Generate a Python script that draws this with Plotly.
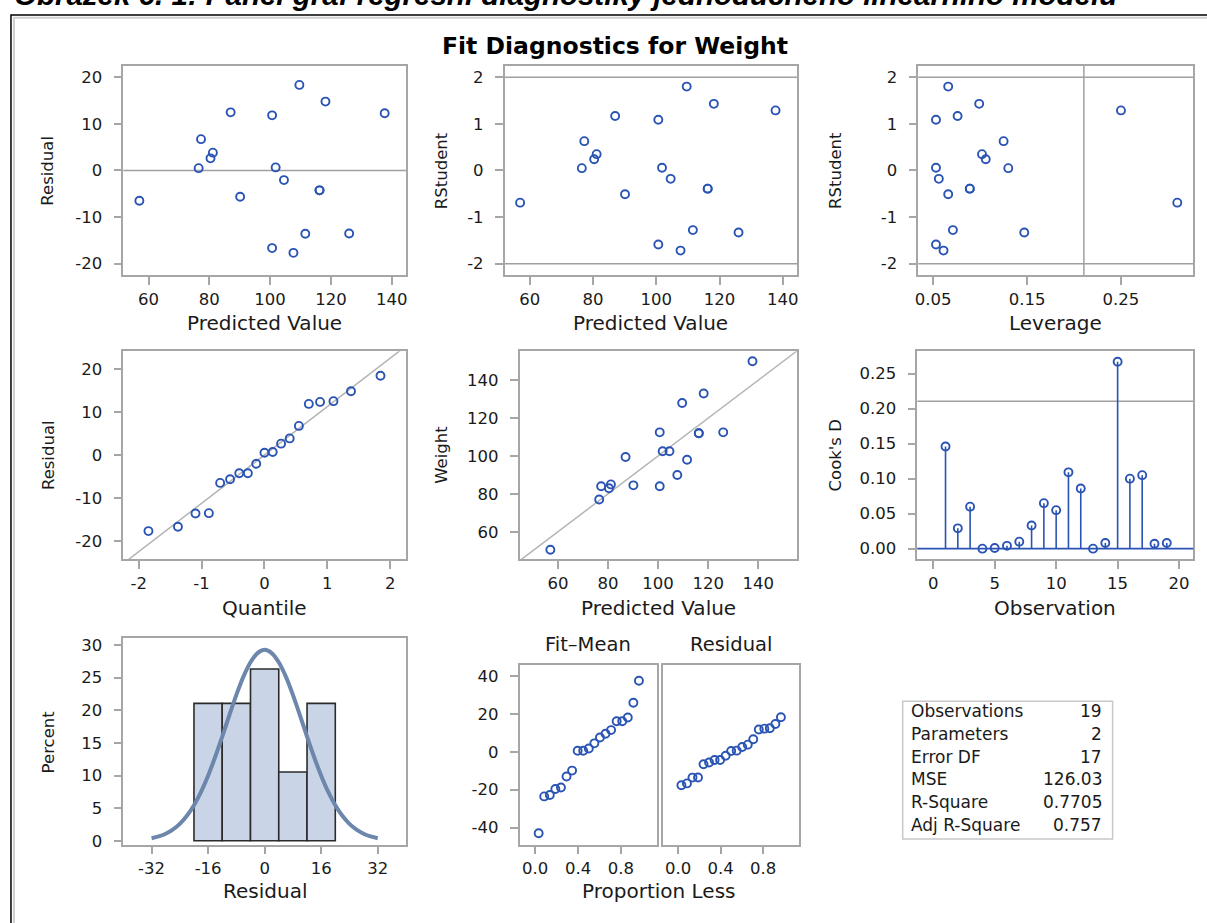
import plotly.graph_objects as go

# ---------------- data ----------------
observation = [1, 2, 3, 4, 5, 6, 7, 8, 9, 10, 11, 12, 13, 14, 15, 16, 17, 18, 19]
predicted = [126.01, 77.27, 111.58, 101.83, 104.56, 80.39, 90.14, 100.66, 100.66, 87.02,
             56.99, 107.68, 76.49, 116.26, 137.70, 109.63, 118.21, 81.17, 116.26]
residual = [-13.51, 6.73, -13.58, 0.67, -2.06, 2.61, -5.64, 11.84, -16.66, 12.48,
            -6.49, -17.68, 0.51, -4.26, 12.30, 18.37, 14.79, 3.83, -4.26]
weight = [112.5, 84.0, 98.0, 102.5, 102.5, 83.0, 84.5, 112.5, 84.0, 99.5,
          50.5, 90.0, 77.0, 112.0, 150.0, 128.0, 133.0, 85.0, 112.0]
rstudent = [-1.33, 0.63, -1.28, 0.06, -0.18, 0.24, -0.51, 1.09, -1.59, 1.17,
            -0.69, -1.72, 0.05, -0.39, 1.29, 1.80, 1.43, 0.35, -0.39]
leverage = [0.147, 0.125, 0.071, 0.053, 0.056, 0.106, 0.066, 0.053, 0.053, 0.076,
            0.310, 0.061, 0.130, 0.089, 0.250, 0.066, 0.099, 0.102, 0.089]
cooks_d = [0.146, 0.029, 0.060, 0.000, 0.001, 0.004, 0.010, 0.033, 0.065, 0.055,
           0.109, 0.086, 0.000, 0.008, 0.267, 0.100, 0.105, 0.007, 0.008]

normal_quantile = [-1.845, -1.376, -1.097, -0.884, -0.705, -0.547, -0.401, -0.264, -0.131, 0.0,
                   0.131, 0.264, 0.401, 0.547, 0.705, 0.884, 1.097, 1.376, 1.845]
sorted_residual = [-17.68, -16.66, -13.58, -13.51, -6.49, -5.64, -4.26, -4.26, -2.06, 0.51,
                   0.67, 2.61, 3.83, 6.73, 11.84, 12.30, 12.48, 14.79, 18.37]
proportion_less = [0.032, 0.084, 0.136, 0.188, 0.240, 0.292, 0.344, 0.396, 0.448, 0.500,
                   0.552, 0.604, 0.656, 0.708, 0.760, 0.812, 0.864, 0.916, 0.968]
fit_minus_mean = [-43.03, -23.54, -22.76, -19.64, -18.86, -13.01, -9.89, 0.64, 0.64, 1.81,
                  4.53, 7.65, 9.60, 11.55, 16.23, 16.23, 18.18, 25.98, 37.68]

hist_bin_center = [-16, -8, 0, 8, 16]
hist_percent = [21.05, 21.05, 26.32, 10.53, 21.05]
hist_bin_width = 8
curve_x = [-32, -30, -28, -26, -24, -22, -20, -18, -16, -14, -12, -10, -8, -6, -4, -2, 0,
           2, 4, 6, 8, 10, 12, 14, 16, 18, 20, 22, 24, 26, 28, 30, 32]
curve_y = [0.40, 0.67, 1.09, 1.71, 2.60, 3.83, 5.45, 7.50, 9.98, 12.84, 15.97, 19.22, 22.36,
           25.15, 27.35, 28.76, 29.25, 28.76, 27.35, 25.15, 22.36, 19.22, 15.97, 12.84, 9.98,
           7.50, 5.45, 3.83, 2.60, 1.71, 1.09, 0.67, 0.40]

root_mse = 11.226
cutoff = 0.2105   # 4/n for Cook's D and 2p/n for leverage
rstudent_limit = 2

stat_labels = ["Observations", "Parameters", "Error DF", "MSE", "R-Square", "Adj R-Square"]
stat_values = ["19", "2", "17", "126.03", "0.7705", "0.757"]

ticks_pred = [60, 80, 100, 120, 140]
ticks_resid = [-20, -10, 0, 10, 20]
ticks_rstud = [-2, -1, 0, 1, 2]
ticks_lev = [0.05, 0.15, 0.25]
ticks_quant = [-2, -1, 0, 1, 2]
ticks_weight = [60, 80, 100, 120, 140]
ticks_obs = [0, 5, 10, 15, 20]
ticks_cook = [0.0, 0.05, 0.10, 0.15, 0.20, 0.25]
ticks_hist = [-32, -16, 0, 16, 32]
ticks_pct = [0, 5, 10, 15, 20, 25, 30]
ticks_prop = [0.0, 0.4, 0.8]
ticks_spread = [-40, -20, 0, 20, 40]

# ---------------- styling ----------------
W, H = 1207, 923
BLUE = "#2A54B4"
FRAME = "#A6A6A6"
REF = "#A0A0A0"
TXT = "#1a1a1a"
FONT = "DejaVu Sans"


def fmt(v, nd=0):
    s = f"{v:.{nd}f}"
    return s.replace("\u2212", "-")


def dom(l, r, t, b):
    return [l / W, r / W], [1 - b / H, 1 - t / H]


frames = {
    1: (120.7, 404.3, 64, 275),
    2: (503.3, 796.7, 63.5, 275),
    3: (918.3, 1194.3, 63.5, 275),
    4: (120.7, 404.3, 351.7, 561.7),
    5: (518.3, 796.7, 351.7, 561.7),
    6: (917.3, 1194.3, 351.7, 561.7),
    7: (120.7, 404.3, 641.7, 850),
    8: (518.3, 656, 668.3, 850),
    9: (661.7, 798.3, 668.3, 850),
}
ranges = {
    1: ([51.7, 144.7], [-22.5, 22.35]),
    2: ([52.1, 144.5], [-2.25, 2.245]),
    3: ([0.0341, 0.3271], [-2.25, 2.245]),
    4: ([-2.245, 2.25], [-24.2, 24.05]),
    5: ([44.7, 155.5], [45.5, 155.3]),
    6: ([-1.3, 21.16], [-0.0151, 0.282]),
    7: ([-40, 40], [-0.6, 31.0]),
    8: ([-0.146, 1.135], [-49.1, 46.1]),
    9: ([-0.146, 1.135], [-49.1, 46.1]),
}
xticks = {1: (ticks_pred, 0), 2: (ticks_pred, 0), 3: (ticks_lev, 2), 4: (ticks_quant, 0),
          5: (ticks_pred, 0), 6: (ticks_obs, 0), 7: (ticks_hist, 0), 8: (ticks_prop, 1),
          9: (ticks_prop, 1)}
yticks = {1: (ticks_resid, 0), 2: (ticks_rstud, 0), 3: (ticks_rstud, 0), 4: (ticks_resid, 0),
          5: (ticks_weight, 0), 6: (ticks_cook, 2), 7: (ticks_pct, 0), 8: (ticks_spread, 0),
          9: (ticks_spread, 0)}

layout = dict(
    width=W, height=H, margin=dict(l=0, r=0, t=0, b=0, pad=0),
    paper_bgcolor="white", plot_bgcolor="white", showlegend=False,
    font=dict(family=FONT, color=TXT),
)

for i in range(1, 10):
    xd, yd = dom(*frames[i])
    sfx = "" if i == 1 else str(i)
    xt, xnd = xticks[i]
    yt, ynd = yticks[i]
    common = dict(showline=True, mirror=True, linecolor=FRAME, linewidth=1.5,
                  ticks="outside", ticklen=8, tickcolor=FRAME, tickwidth=1.5,
                  showgrid=False, zeroline=False,
                  tickfont=dict(family=FONT, size=16.5, color=TXT), fixedrange=True)
    layout["xaxis" + sfx] = dict(common, domain=xd, anchor="y" + sfx, range=ranges[i][0],
                                 tickmode="array", tickvals=xt,
                                 ticktext=[fmt(v, xnd) for v in xt], ticklabelstandoff=0)
    ydict = dict(common, domain=yd, anchor="x" + sfx, range=ranges[i][1],
                 tickmode="array", tickvals=yt,
                 ticktext=[fmt(v, ynd) for v in yt], ticklabelstandoff=8)
    if i == 9:
        ydict.update(showticklabels=False, ticks="")
    layout["yaxis" + sfx] = ydict

fig = go.Figure(layout=layout)

mk = dict(symbol="circle-open", size=8, color=BLUE, line=dict(width=1.9, color=BLUE))


def scat(x, y, n):
    sfx = "" if n == 1 else str(n)
    fig.add_trace(go.Scatter(x=x, y=y, mode="markers", marker=mk,
                             xaxis="x" + sfx, yaxis="y" + sfx, hoverinfo="skip"))


shapes = []


def hline(n, y, color=REF, width=1.5):
    sfx = "" if n == 1 else str(n)
    shapes.append(dict(type="line", xref="x" + sfx + " domain", yref="y" + sfx,
                       x0=0, x1=1, y0=y, y1=y, line=dict(color=color, width=width),
                       layer="below"))


def vline(n, x, color=REF, width=1.5):
    sfx = "" if n == 1 else str(n)
    shapes.append(dict(type="line", xref="x" + sfx, yref="y" + sfx + " domain",
                       x0=x, x1=x, y0=0, y1=1, line=dict(color=color, width=width),
                       layer="below"))


hline(1, 0)
hline(2, rstudent_limit); hline(2, -rstudent_limit)
hline(3, rstudent_limit); hline(3, -rstudent_limit); vline(3, cutoff)
hline(6, cutoff)

# diagonal reference lines
fig.add_trace(go.Scatter(x=[-3, 3], y=[-3 * root_mse, 3 * root_mse], mode="lines",
                         line=dict(color="#B4B4B4", width=1.5), xaxis="x4", yaxis="y4",
                         hoverinfo="skip"))
fig.add_trace(go.Scatter(x=[40, 160], y=[40, 160], mode="lines",
                         line=dict(color="#B4B4B4", width=1.5), xaxis="x5", yaxis="y5",
                         hoverinfo="skip"))

scat(predicted, residual, 1)
scat(predicted, rstudent, 2)
scat(leverage, rstudent, 3)
scat(normal_quantile, sorted_residual, 4)
scat(predicted, weight, 5)

# Cook's D needles
nx, ny = [], []
for o, d in zip(observation, cooks_d):
    nx += [o, o, None]
    ny += [0, d, None]
fig.add_trace(go.Scatter(x=nx, y=ny, mode="lines", line=dict(color=BLUE, width=1.6),
                         xaxis="x6", yaxis="y6", hoverinfo="skip"))
shapes.append(dict(type="line", xref="x6 domain", yref="y6", x0=0, x1=1, y0=0, y1=0,
                   line=dict(color=BLUE, width=1.6)))
scat(observation, cooks_d, 6)

# histogram + normal curve
fig.add_trace(go.Bar(x=hist_bin_center, y=hist_percent, width=hist_bin_width,
                     marker=dict(color="#C9D4E6", line=dict(color="#2b2b2b", width=1.6)),
                     xaxis="x7", yaxis="y7", hoverinfo="skip"))
fig.add_trace(go.Scatter(x=curve_x, y=curve_y, mode="lines",
                         line=dict(color="#6C86AC", width=4, shape="spline"),
                         xaxis="x7", yaxis="y7", hoverinfo="skip"))

# residual-fit spread
scat(proportion_less, fit_minus_mean, 8)
scat(proportion_less, sorted_residual, 9)

# outer borders
shapes.append(dict(type="rect", xref="paper", yref="paper", x0=11 / W, x1=1.02,
                   y0=-0.02, y1=1 - 15 / H, line=dict(color="#D0D0D0", width=2)))
shapes.append(dict(type="rect", xref="paper", yref="paper", x0=8 / W, x1=1.02,
                   y0=-0.02, y1=1 - 12 / H, line=dict(color="black", width=1.5)))

# fit statistics box
shapes.append(dict(type="rect", xref="paper", yref="paper", x0=902.7 / W, x1=1113.3 / W,
                   y0=1 - 844.3 / H, y1=1 - 705 / H, line=dict(color="#C8C8C8", width=1.5)))

annotations = []


def ann(text, x, y, size, xanchor="center", yanchor="middle", angle=0, color=TXT, family=FONT):
    annotations.append(dict(text=text, x=x / W, y=1 - y / H, xref="paper", yref="paper",
                            xanchor=xanchor, yanchor=yanchor, textangle=angle,
                            showarrow=False, font=dict(family=family, size=size, color=color)))


for i, (lab, val) in enumerate(zip(stat_labels, stat_values)):
    yy = 715 + i * 23
    ann(lab, 909, yy, 17, xanchor="left")
    ann(val, 1105, yy, 17, xanchor="right")

# titles
ann("<b><i>Obrázek 6. 1: Panel graf regresní diagnostiky jednoduchého lineárního modelu</i></b>",
    9, 10, 29.5, xanchor="left", yanchor="bottom", color="black", family="Liberation Sans")
ann("<b>Fit Diagnostics for Weight</b>", 614.5, 43, 23.5, color="black")

# x axis titles
XT = 20
ann("Predicted Value", 262.5, 323, XT)
ann("Predicted Value", 650, 323, XT)
ann("Leverage", 1056.3, 323, XT)
ann("Quantile", 262.5, 611, XT)
ann("Predicted Value", 657.5, 611, XT)
ann("Observation", 1055.8, 611, XT)
ann("Residual", 262.5, 896.7, XT)
ann("Proportion Less", 658.3, 896.7, XT)
ann("Fit\u2013Mean", 587.2, 648, 19.5)
ann("Residual", 730, 648, 19.5)

# y axis titles
YT = 16.5
ann("Residual", 45, 169.5, YT, angle=-90)
ann("RStudent", 440, 169.3, YT, angle=-90)
ann("RStudent", 835, 169.3, YT, angle=-90)
ann("Residual", 45, 456.7, YT, angle=-90)
ann("Weight", 440, 456.7, YT, angle=-90)
ann("Cook's D", 835, 456.7, YT, angle=-90)
ann("Percent", 46, 745.8, YT, angle=-90)

fig.update_layout(shapes=shapes, annotations=annotations)
fig.write_html("out.html", config={"displayModeBar": False},
               post_script="document.body.style.margin='0';document.body.style.padding='0';"
                           "document.body.style.overflow='hidden';")
